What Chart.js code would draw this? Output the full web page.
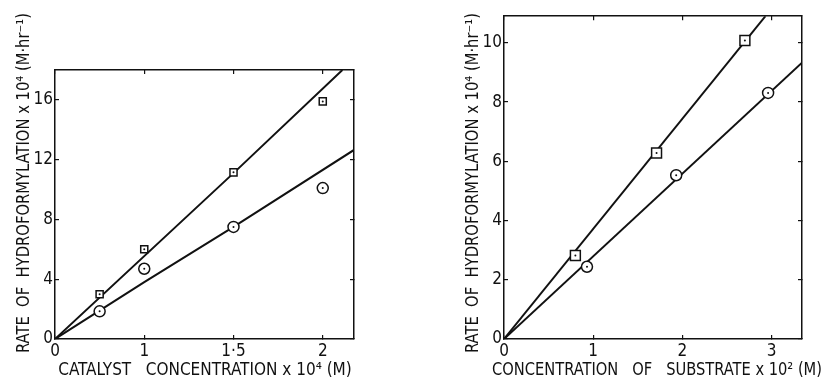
<!DOCTYPE html>
<html>
<head>
<meta charset="utf-8">
<script src="https://cdn.jsdelivr.net/npm/chart.js@4.4.1/dist/chart.umd.min.js"></script>
<style>
  html, body { margin: 0; padding: 0; background: #fff; }
  .panel { position: absolute; top: 0; height: 382px; }
  #left-panel { left: 0; width: 412px; }
  #right-panel { left: 412px; width: 413px; }
</style>
</head>
<body>
<div class="panel" id="left-panel"><canvas id="catalyst-chart"></canvas></div>
<div class="panel" id="right-panel"><canvas id="substrate-chart"></canvas></div>
<script>
// left panel: rate vs catalyst concentration
// the printed axis has evenly spaced ticks labelled 0, 1, 1.5, 2,
// so x values are given as positions on that tick scale
const catTickPos = [0, 1, 2, 3];
const catTickLabels = ['0', '1', '1·5', '2'];
const catYTicks = [0, 4, 8, 12, 16];
const catSquareX = [0.5, 1, 2, 3];
const catSquareY = [3.0, 6.0, 11.15, 15.9];
const catCircleX = [0.5, 1, 2, 3];
const catCircleY = [1.85, 4.7, 7.5, 10.1];
const catUpperLineX = [0, 2, 3.22];
const catUpperLineY = [0, 11.1, 18];
const catLowerLineX = [0, 1, 2, 3.35];
const catLowerLineY = [0, 3.8, 7.5, 12.65];

// right panel: rate vs substrate concentration
const subXTicks = [0, 1, 2, 3];
const subYTicks = [0, 2, 4, 6, 8, 10];
const subSquareX = [0.80, 1.71, 2.70];
const subSquareY = [2.82, 6.28, 10.08];
const subCircleX = [0.93, 1.93, 2.96];
const subCircleY = [2.44, 5.53, 8.31];
const subUpperLineX = [0, 2.93];
const subUpperLineY = [0, 10.9];
const subLowerLineX = [0, 3.34];
const subLowerLineY = [0, 9.33];

const INK = '#111';
const FONT = "'Liberation Sans Narrow', 'DejaVu Sans Condensed', sans-serif";

Chart.defaults.font.family = FONT;
Chart.defaults.color = INK;

function pts(xs, ys) {
    return xs.map((x, i) => ({ x: x, y: ys[i] }));
}

function fixTicks(values) {
    return function (scale) {
        scale.ticks = values.map(v => ({ value: v }));
    };
}

// axis titles drawn at a given centre (they run wider than the plot)
const axisTitlePlugin = {
    id: 'axisTitles',
    afterDraw(chart, args, opts) {
        const ctx = chart.ctx;
        opts.items.forEach(t => {
            ctx.save();
            ctx.translate(t.x, t.y);
            if (t.vertical) ctx.rotate(-Math.PI / 2);
            ctx.font = opts.font;
            ctx.fillStyle = INK;
            ctx.textAlign = 'center';
            ctx.textBaseline = 'middle';
            ctx.fillText(t.text, 0, 0, t.width);
            ctx.restore();
        });
    }
};

function markerSets(sx, sy, cx, cy, sqR, ciR) {
    return [
        { data: pts(sx, sy), pointStyle: 'circle', pointRadius: 1, borderWidth: 0, backgroundColor: INK, showLine: false },
        { data: pts(cx, cy), pointStyle: 'circle', pointRadius: 1, borderWidth: 0, backgroundColor: INK, showLine: false },
        { data: pts(sx, sy), pointStyle: 'rect', pointRadius: sqR, borderWidth: 1.5, borderColor: INK, backgroundColor: '#fff', showLine: false },
        { data: pts(cx, cy), pointStyle: 'circle', pointRadius: ciR, borderWidth: 1.5, borderColor: INK, backgroundColor: '#fff', showLine: false },
    ];
}

function lineSet(xs, ys) {
    return { data: pts(xs, ys), showLine: true, pointRadius: 0, borderWidth: 2, borderColor: INK, tension: 0 };
}

function scales(xMax, yMax, xTicks, yTicks, xLabel, yWidth) {
    const inner = { display: true, drawOnChartArea: false, drawTicks: true, tickLength: -4, color: INK, lineWidth: 1.2 };
    const border = { display: true, color: INK, width: 1.5 };
    return {
        x: {
            type: 'linear', position: 'bottom', min: 0, max: xMax,
            afterBuildTicks: fixTicks(xTicks),
            afterFit: s => { s.height = 43; },
            grid: inner, border: border,
            ticks: { font: { size: 17 }, padding: 6, maxRotation: 0, callback: xLabel }
        },
        x2: {
            type: 'linear', position: 'top', min: 0, max: xMax,
            afterBuildTicks: fixTicks(xTicks),
            afterFit: s => { s.height = 0; },
            grid: inner, border: border, ticks: { display: false }
        },
        y: {
            type: 'linear', position: 'left', min: 0, max: yMax,
            afterBuildTicks: fixTicks(yTicks),
            afterFit: s => { s.width = yWidth; },
            grid: inner, border: border,
            ticks: { font: { size: 17 }, padding: 6 }
        },
        y2: {
            type: 'linear', position: 'right', min: 0, max: yMax,
            afterBuildTicks: fixTicks(yTicks),
            afterFit: s => { s.width = 0; },
            grid: inner, border: border, ticks: { display: false }
        }
    };
}

const Y_TITLE = 'RATE  OF  HYDROFORMYLATION x 10\u2074 (M\u00b7hr\u207b\u00b9)';

// chart for catalyst concentration
const CAT_Chart = document.getElementById('catalyst-chart');

const catalystChart = new Chart(CAT_Chart, {
    type: 'scatter',
    data: {
        datasets: [
            ...markerSets(catSquareX, catSquareY, catCircleX, catCircleY, 5, 5.5),
            lineSet(catUpperLineX, catUpperLineY),
            lineSet(catLowerLineX, catLowerLineY),
        ]
    },
    plugins: [axisTitlePlugin],
    options: {
        responsive: true,
        maintainAspectRatio: false,
        animation: false,
        events: [],
        layout: { padding: { top: 70, right: 58, left: 0, bottom: 0 } },
        scales: scales(3.35, 18, catTickPos, catYTicks,
            v => catTickLabels[catTickPos.indexOf(v)], 55),
        plugins: {
            legend: { display: false },
            tooltip: { enabled: false },
            axisTitles: {
                font: '17px ' + FONT,
                items: [
                    { text: Y_TITLE, x: 25, y: 183, vertical: true, width: 340 },
                    { text: 'CATALYST   CONCENTRATION x 10\u2074 (M)', x: 205, y: 371, width: 296 }
                ]
            }
        }
    }
});

// chart for substrate concentration
const SUB_Chart = document.getElementById('substrate-chart');

const substrateChart = new Chart(SUB_Chart, {
    type: 'scatter',
    data: {
        datasets: [
            ...markerSets(subSquareX, subSquareY, subCircleX, subCircleY, 7, 5.5),
            lineSet(subUpperLineX, subUpperLineY),
            lineSet(subLowerLineX, subLowerLineY),
        ]
    },
    plugins: [axisTitlePlugin],
    options: {
        responsive: true,
        maintainAspectRatio: false,
        animation: false,
        events: [],
        layout: { padding: { top: 11, right: 23, left: 0, bottom: 0 } },
        scales: scales(3.34, 10.9, subXTicks, subYTicks, v => String(v), 92),
        plugins: {
            legend: { display: false },
            tooltip: { enabled: false },
            axisTitles: {
                font: '17px ' + FONT,
                items: [
                    { text: Y_TITLE, x: 62, y: 183, vertical: true, width: 340 },
                    { text: 'CONCENTRATION   OF   SUBSTRATE x 10\u00b2 (M)', x: 245, y: 371, width: 330 }
                ]
            }
        }
    }
});
</script>
</body>
</html>
